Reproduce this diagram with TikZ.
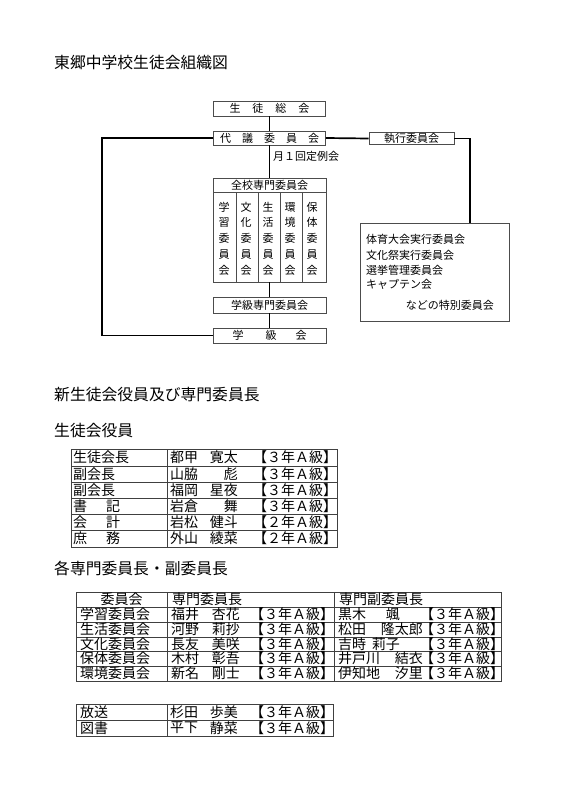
\documentclass[tikz,border=0pt]{standalone}
\usepackage{fontspec}
\newfontfamily\jp{Noto Sans CJK JP}
\begin{document}
\begin{tikzpicture}[x=1pt,y=-1pt,
  every node/.style={inner sep=0pt, font=\jp\fontsize{11}{11}\selectfont},
  box/.style={draw=black!70, line width=0.7pt, fill=white},
  conn/.style={line width=1.7pt, black},
  head/.style={font=\jp\fontsize{15.8}{15.8}\selectfont, anchor=west},
  cell/.style={font=\jp\fontsize{14}{14}\selectfont, anchor=west},
  celle/.style={font=\jp\fontsize{14}{14}\selectfont, anchor=east},
  cellc/.style={font=\jp\fontsize{14}{14}\selectfont},
  tline/.style={draw=black!75, line width=0.8pt}]
\useasboundingbox (0,0) rectangle (566,800);
\fill[white] (0,0) rectangle (566,800);

% ---------- title ----------
\node[head] (title) at (54,63) {東郷中学校生徒会組織図};

\coordinate (lc) at (102,138);
\coordinate (rc) at (470,223);

% ---------- chart boxes ----------
\node[box, minimum width=112pt, minimum height=15pt] (sou) at (269.5,108.5) {生\hspace{12pt}徒\hspace{12pt}総\hspace{12pt}会};
\node[box, minimum width=112pt, minimum height=14pt] (dai) at (269.5,138) {代\hspace{11pt}議\hspace{11pt}委\hspace{11pt}員\hspace{11pt}会};
\node[box, minimum width=85pt, minimum height=12pt] (shk) at (411.5,138.5) {執行委員会};
\node[anchor=west] (tsuki) at (273,156) {月１回定例会};

\node[box, minimum width=113pt, minimum height=104pt] (zen) at (269.5,230) {};
\node (zent) at (269.5,185) {全校専門委員会};
\draw[draw=black!70, line width=0.7pt] (213,192) -- (326,192);
\foreach \x in {236,258,280,302} \draw[draw=black!70, line width=0.7pt] (\x,192) -- (\x,282);
\foreach \x/\a/\b in {224/学/習, 246/文/化, 268/生/活, 290/環/境, 312/保/体} {
  \node (c\x a) at (\x,207) {\a};
  \node (c\x b) at (\x,222.8) {\b};
  \node (c\x c) at (\x,238.5) {委};
  \node (c\x d) at (\x,254.3) {員};
  \node (c\x e) at (\x,270) {会};
}
\node[box, minimum width=113pt, minimum height=16pt] (gks) at (269.5,305) {学級専門委員会};
\node[box, minimum width=113pt, minimum height=15pt] (gk) at (269.5,335.5) {学\hspace{22pt}級\hspace{19pt}会};

\node[box, minimum width=149pt, minimum height=98pt] (sp) at (434.5,272) {};
\node[anchor=west] (sp1) at (366,239) {体育大会実行委員会};
\node[anchor=west] (sp2) at (366,255) {文化祭実行委員会};
\node[anchor=west] (sp3) at (366,270) {選挙管理委員会};
\node[anchor=west] (sp4) at (366,284.5) {キャプテン会};
\node[anchor=east] (sp5) at (494,305) {などの特別委員会};

\draw[conn] (sou.south) -- (dai.north);
\draw[conn] (dai.south) -- (zen.north);
\draw[conn] (zen.south) -- (gks.north);
\draw[conn] (gks.south) -- (gk.north);
\draw[conn] (dai.west) -- (lc) |- (gk.west);
\draw[conn] (dai.east) -- (shk.west);
\draw[conn] (shk.east) -| (rc);

% ---------- section headings ----------
\node[head] (h2) at (54,395) {新生徒会役員及び専門委員長};
\node[head] (h3) at (54,430) {生徒会役員};
\node[head] (h4) at (54,568) {各専門委員長・副委員長};

% ---------- table 1 ----------
\draw[tline] (71,449) rectangle (337,547);
\foreach \y in {466,482,498,514,530} \draw[tline] (71,\y) -- (337,\y);
\draw[tline] (167,449) -- (167,547);
\foreach \i/\y/\r/\s/\g/\k in {1/457.5/{生徒会長}/{都甲}/{寛太}/３, 2/474/{副会長}/{山脇}/{彪}/３, 3/490/{副会長}/{福岡}/{星夜}/３, 4/506/{書\hspace{19pt}記}/{岩倉}/{舞}/３, 5/522/{会\hspace{19pt}計}/{岩松}/{健斗}/２, 6/538.5/{庶\hspace{19pt}務}/{外山}/{綾菜}/２} {
  \node[cell] (ta\i) at (73,\y) {\r};
  \node[cell] (tb\i) at (170,\y) {\s};
  \node[celle] (tc\i) at (238,\y) {\g};
  \node[cell] (td\i) at (253,\y) {【\k 年Ａ級】};
}

% ---------- table 2 ----------
\draw[tline] (76,592) rectangle (501,681);
\foreach \y in {607,622,637,651,666} \draw[tline] (76,\y) -- (501,\y);
\draw[tline] (167,592) -- (167,681);
\draw[tline] (334,592) -- (334,681);
\node[cellc] (hA) at (121.5,599.5) {委員会};
\node[cell] (hB) at (172,599.5) {専門委員長};
\node[cell] (hC) at (339,599.5) {専門副委員長};
\foreach \i/\y/\r/\s/\g/\t/\u/\e in {1/614.5/{学習委員会}/{福井}/{杏花}/{黒木}/{颯}/400, 2/629.5/{生活委員会}/{河野}/{莉抄}/{松田}/{隆太郎}/423, 3/644/{文化委員会}/{長友}/{美咲}/{吉時}/{莉子}/400, 4/658.5/{保体委員会}/{木村}/{彰吾}/{井戸川}/{結衣}/423, 5/673.5/{環境委員会}/{新名}/{剛士}/{伊知地}/{汐里}/423} {
  \node[cell] (sa\i) at (80,\y) {\r};
  \node[cell] (sb\i) at (171,\y) {\s};
  \node[celle] (sc\i) at (240,\y) {\g};
  \node[cell] (sd\i) at (250,\y) {【３年Ａ級】};
  \node[cell] (se\i) at (338,\y) {\t};
  \node[celle] (sf\i) at (\e,\y) {\u};
  \node[cell] (sg\i) at (420,\y) {【３年Ａ級】};
}

% ---------- table 3 ----------
\draw[tline] (76,704) rectangle (333,736);
\draw[tline] (76,720) -- (333,720);
\draw[tline] (167,704) -- (167,736);
\foreach \i/\y/\r/\s/\g in {1/712/{放送}/{杉田}/{歩美}, 2/728/{図書}/{平下}/{静菜}} {
  \node[cell] (ua\i) at (80,\y) {\r};
  \node[cell] (ub\i) at (170,\y) {\s};
  \node[celle] (uc\i) at (238,\y) {\g};
  \node[cell] (ud\i) at (250,\y) {【３年Ａ級】};
}
\end{tikzpicture}
\end{document}
